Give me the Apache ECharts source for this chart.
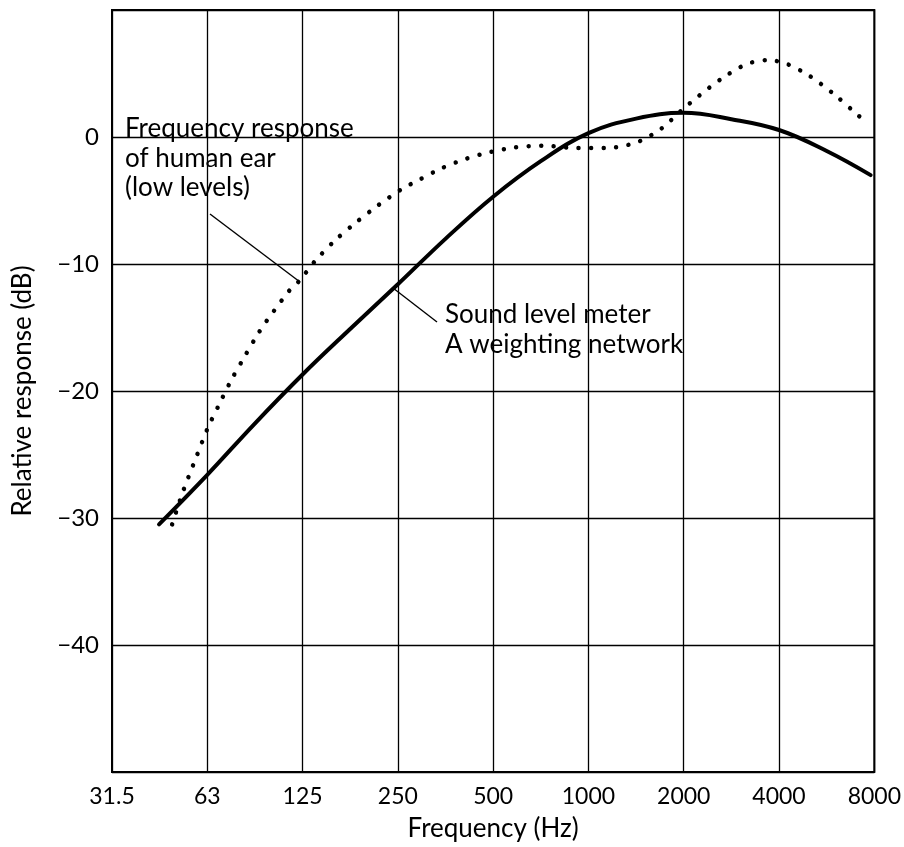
<!DOCTYPE html>
<html><head><meta charset="utf-8">
<script src="https://cdn.jsdelivr.net/npm/echarts@6/dist/echarts.min.js"></script>
<style>html,body{margin:0;padding:0;background:#fff}#c{width:904px;height:847px}</style>
</head><body><div id="c"></div>
<script>
// Octave-band tick labels (Hz) and y tick labels (dB)
const xTickLabels = ['31.5','63','125','250','500','1000','2000','4000','8000'];
const yTickValues = [-40, -30, -20, -10, 0];
const yTickLabels = ['\u221240', '\u221230', '\u221220', '\u221210', '0'];

// Sound level meter, A weighting network (frequency Hz, relative response dB)
const aWeightFreq = [44, 62.5, 88, 125, 177, 250, 354, 500, 707, 1000, 1414, 2000, 2828, 4000, 5657, 7790];
const aWeightDb   = [-30.5, -26.6, -22.6, -18.7, -15.1, -11.6, -8.0, -4.7, -1.9, 0.3, 1.45, 1.9, 1.4, 0.55, -1.1, -3.0];

// Frequency response of human ear (low levels)
const earFreq = [48.4, 52.4, 57.9, 62.5, 67.7, 74.2, 81.5, 90.4, 95.5, 113.9, 122.4, 136.5, 159, 184, 216, 256, 293, 346, 412, 491, 586, 714, 905, 1143, 1421, 1696, 1960, 2233, 2619, 3154, 3691, 4236, 4993, 5914, 6949, 7439];
const earDb   = [-30.5, -27.9, -25.1, -23.0, -21.2, -19.2, -17.4, -15.5, -14.6, -12.05, -11.3, -9.8, -8.1, -6.75, -5.4, -4.13, -3.35, -2.43, -1.7, -1.18, -0.82, -0.68, -0.86, -0.86, -0.42, 0.65, 2.06, 3.24, 4.55, 5.73, 6.06, 5.75, 4.81, 3.45, 1.93, 1.28];

const FONT = 'Lato, "Open Sans", sans-serif';
// octave position on the axis: 1000 Hz is the 6th tick (index 5)
function octave(f) { return 5 + Math.log2(f / 1000); }
function pairs(fs, ds) { return fs.map((f, i) => [octave(f), ds[i]]); }

const chart = echarts.init(document.getElementById('c'), null, {renderer: 'canvas'});
chart.setOption({
  backgroundColor: '#fff',
  animation: false,
  grid: {left: 112, right: 27, top: 10, bottom: 72, show: true, borderColor: '#000', borderWidth: 2, backgroundColor: 'transparent'},
  xAxis: {
    type: 'value', min: 0, max: 8, interval: 1,
    axisLine: {show: false}, axisTick: {show: false},
    splitLine: {show: true, lineStyle: {color: '#000', width: 1.3}},
    axisLabel: {
      color: '#000', fontSize: 23, fontFamily: FONT, margin: 13,
      showMinLabel: true, showMaxLabel: true,
      formatter: v => xTickLabels[Math.round(v)] || ''
    },
    name: 'Frequency (Hz)', nameLocation: 'middle', nameGap: 44,
    nameTextStyle: {color: '#000', fontSize: 26, fontFamily: FONT}
  },
  yAxis: {
    type: 'value', min: -50, max: 10, interval: 10,
    axisLine: {show: false}, axisTick: {show: false},
    splitLine: {show: true, lineStyle: {color: '#000', width: 1.3}},
    axisLabel: {
      color: '#000', fontSize: 24, fontFamily: FONT, margin: 13,
      formatter: v => { const i = yTickValues.indexOf(v); return i < 0 ? '' : yTickLabels[i]; }
    },
    name: 'Relative response (dB)', nameLocation: 'middle', nameGap: 76,
    nameTextStyle: {color: '#000', fontSize: 26, fontFamily: FONT}
  },
  series: [
    {
      name: 'Sound level meter A weighting network', type: 'line',
      data: pairs(aWeightFreq, aWeightDb), smooth: 0.4, showSymbol: false,
      lineStyle: {color: '#000', width: 4, cap: 'round'}, z: 3
    },
    {
      name: 'Frequency response of human ear (low levels)', type: 'line',
      data: pairs(earFreq, earDb), smooth: 0.3, showSymbol: false,
      lineStyle: {color: '#000', width: 4.5, type: [0.01, 12.5], cap: 'round'}, z: 3
    }
  ],
  graphic: [
    {type: 'text', left: 125, top: 114, z: 10,
     style: {text: 'Frequency response\nof human ear\n(low levels)', font: '26px ' + FONT, fill: '#000', lineHeight: 29.5}},
    {type: 'line', z: 10, shape: {x1: 210, y1: 214, x2: 300, y2: 282}, style: {stroke: '#000', lineWidth: 1.4}},
    {type: 'text', left: 445, top: 300, z: 10,
     style: {text: 'Sound level meter\nA weighting network', font: '26px ' + FONT, fill: '#000', lineHeight: 30}},
    {type: 'line', z: 10, shape: {x1: 393, y1: 288, x2: 437, y2: 322}, style: {stroke: '#000', lineWidth: 1.4}}
  ]
});
</script>
</body></html>
